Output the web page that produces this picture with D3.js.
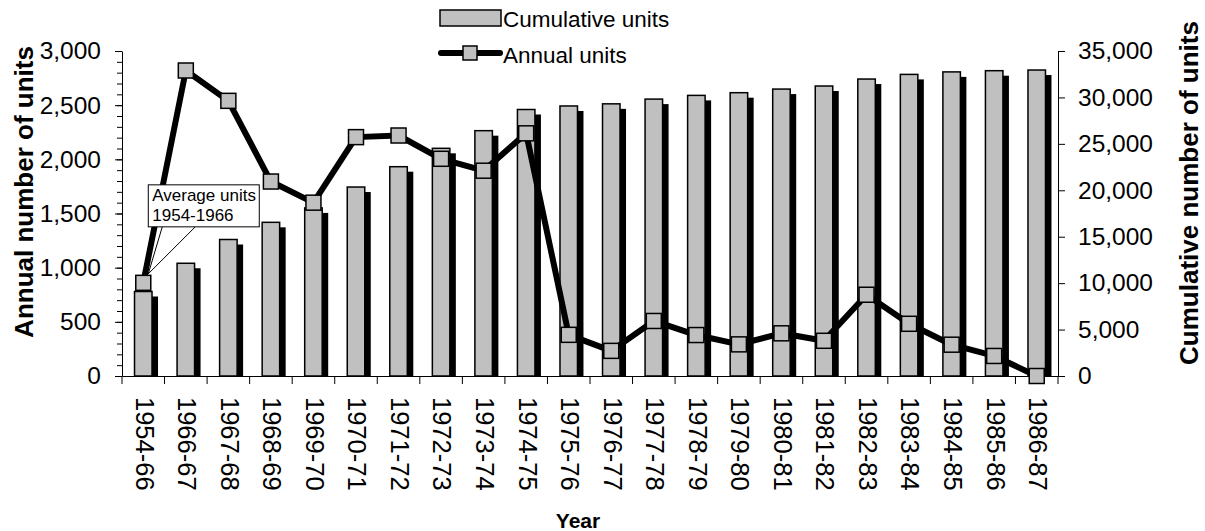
<!DOCTYPE html>
<html>
<head>
<meta charset="utf-8">
<script src="https://cdn.jsdelivr.net/npm/d3@7"></script>
<style>
    body { margin: 0; background: #fff; }
    text { font-family: "Liberation Sans", Arial, sans-serif; fill: #000; }
</style>
</head>
<body>
<div id="chart"></div>
<script>
// Data
const years = ['1954-66', '1966-67', '1967-68', '1968-69', '1969-70', '1970-71', '1971-72',
    '1972-73', '1973-74', '1974-75', '1975-76', '1976-77', '1977-78', '1978-79', '1979-80',
    '1980-81', '1981-82', '1982-83', '1983-84', '1984-85', '1985-86', '1986-87'];
const annualUnits = [860, 2820, 2540, 1795, 1600, 2205, 2220, 2005, 1895, 2240, 380,
    232, 508, 378, 292, 394, 325, 750, 482, 289, 185, 0];
const cumulativeUnits = [9100, 12140, 14700, 16550, 18100, 20350, 22540, 24520, 26420, 28700,
    29080, 29310, 29820, 30220, 30510, 30900, 31230, 31980, 32480, 32750, 32880, 32950];
const leftTicks = [0, 500, 1000, 1500, 2000, 2500, 3000];
const rightTicks = [0, 5000, 10000, 15000, 20000, 25000, 30000, 35000];

// Set the dimensions and margins of the graph
const margin = {top: 51, right: 147, bottom: 155, left: 122},
    width = 1205 - margin.left - margin.right,
    height = 531 - margin.top - margin.bottom;

const root = d3.select('#chart')
    .append('svg')
    .attr('width', 1205)
    .attr('height', 531);

const svg = root.append('g')
    .attr('transform', `translate(${margin.left},${margin.top})`);

// Scales
const x = d3.scaleBand()
    .domain(years)
    .range([0, width]);
const yLeft = d3.scaleLinear()
    .domain([0, 3000])
    .range([height, 0]);
const yRight = d3.scaleLinear()
    .domain([0, 35000])
    .range([height, 0]);

const barW = 17.5;
const cx = d => x(d) + x.bandwidth() / 2;

// Bars (shadow first, then grey bar)
svg.append('g')
    .selectAll('rect')
    .data(years)
    .enter()
    .append('rect')
    .attr('x', d => cx(d) - barW / 2 + 6)
    .attr('y', (d, i) => yRight(cumulativeUnits[i]) + 5)
    .attr('width', barW)
    .attr('height', (d, i) => height - yRight(cumulativeUnits[i]) - 5)
    .attr('fill', '#000');

svg.append('g')
    .selectAll('rect')
    .data(years)
    .enter()
    .append('rect')
    .attr('x', d => cx(d) - barW / 2)
    .attr('y', (d, i) => yRight(cumulativeUnits[i]))
    .attr('width', barW)
    .attr('height', (d, i) => height - yRight(cumulativeUnits[i]))
    .attr('fill', '#c0c0c0')
    .attr('stroke', '#000')
    .attr('stroke-width', 1.5);

// Left axis: minor ticks every 100, labelled ticks every 500
svg.append('g')
    .call(d3.axisLeft(yLeft).tickValues(d3.range(0, 3001, 100)).tickSize(5).tickFormat(''))
    .call(g => g.select('.domain').remove());
svg.append('g')
    .call(d3.axisLeft(yLeft).tickValues(leftTicks).tickSize(7).tickSizeOuter(0).tickPadding(14).tickFormat(d3.format(',')))
    .call(g => g.selectAll('text').attr('font-size', 24.5).attr('font-family', null));

// Right axis
svg.append('g')
    .attr('transform', `translate(${width},0)`)
    .call(d3.axisRight(yRight).tickValues(rightTicks).tickSize(7).tickSizeOuter(0).tickPadding(13).tickFormat(d3.format(',')))
    .call(g => g.selectAll('text').attr('font-size', 24.5).attr('font-family', null));

// x-axis with ticks between categories
const xAxis = svg.append('g')
    .attr('transform', `translate(0,${height})`)
    .call(d3.axisBottom(x).tickSize(0).tickSizeOuter(0));
xAxis.selectAll('text')
    .attr('font-size', 25.5)
    .attr('font-family', null)
    .attr('transform', 'rotate(90)')
    .attr('x', 21)
    .attr('y', 0)
    .attr('dy', '0.3em')
    .style('text-anchor', 'start');
xAxis.selectAll('.sep')
    .data(years.concat(['end']))
    .enter()
    .append('line')
    .attr('class', 'sep')
    .attr('x1', d => d === 'end' ? width : x(d))
    .attr('x2', d => d === 'end' ? width : x(d))
    .attr('y1', 0)
    .attr('y2', 8)
    .attr('stroke', '#000');

// Annual units line
svg.append('path')
    .datum(annualUnits)
    .attr('fill', 'none')
    .attr('stroke', '#000')
    .attr('stroke-width', 6)
    .attr('stroke-linejoin', 'round')
    .attr('d', d3.line()
        .x((d, i) => cx(years[i]))
        .y(d => yLeft(d))
    );

// Square markers
svg.append('g')
    .selectAll('rect')
    .data(annualUnits)
    .enter()
    .append('rect')
    .attr('x', (d, i) => cx(years[i]) - 7.5)
    .attr('y', d => yLeft(d) - 7.5)
    .attr('width', 15)
    .attr('height', 15)
    .attr('fill', '#c0c0c0')
    .attr('stroke', '#000')
    .attr('stroke-width', 1.5);

// Callout for the first point
const px = cx(years[0]), py = yLeft(annualUnits[0]);
const bx = px + 5, by = py - 98;
const callout = svg.append('g');
callout.append('path')
    .attr('d', `M${bx + 14},${by + 42}L${px + 5},${py - 9}L${bx + 47},${by + 42}`)
    .attr('fill', 'none')
    .attr('stroke', '#000')
    .attr('stroke-width', 1);
callout.append('rect')
    .attr('x', bx)
    .attr('y', by)
    .attr('width', 111)
    .attr('height', 42)
    .attr('fill', '#fff')
    .attr('stroke', '#000')
    .attr('stroke-width', 1);
callout.append('text')
    .attr('x', bx + 4)
    .attr('y', by + 16)
    .attr('font-size', 17)
    .text('Average units');
callout.append('text')
    .attr('x', bx + 4)
    .attr('y', by + 36)
    .attr('font-size', 17)
    .text('1954-1966');

// Axis titles
root.append('text')
    .attr('transform', 'translate(33,192)rotate(-90)')
    .attr('text-anchor', 'middle')
    .attr('font-size', 26)
    .attr('font-weight', 'bold')
    .text('Annual number of units');
root.append('text')
    .attr('transform', 'translate(1198,193)rotate(-90)')
    .attr('text-anchor', 'middle')
    .attr('font-size', 26)
    .attr('font-weight', 'bold')
    .text('Cumulative number of units');
root.append('text')
    .attr('x', 578)
    .attr('y', 528)
    .attr('text-anchor', 'middle')
    .attr('font-size', 21)
    .attr('font-weight', 'bold')
    .text('Year');

// Legend
const legend = root.append('g');
legend.append('rect')
    .attr('x', 440)
    .attr('y', 10)
    .attr('width', 61)
    .attr('height', 16)
    .attr('fill', '#c0c0c0')
    .attr('stroke', '#000')
    .attr('stroke-width', 1.5);
legend.append('text')
    .attr('x', 503)
    .attr('y', 27)
    .attr('font-size', 22.5)
    .text('Cumulative units');
legend.append('line')
    .attr('x1', 441)
    .attr('x2', 500)
    .attr('y1', 53)
    .attr('y2', 53)
    .attr('stroke', '#000')
    .attr('stroke-width', 6)
    .attr('stroke-linecap', 'round');
legend.append('rect')
    .attr('x', 463)
    .attr('y', 46)
    .attr('width', 14)
    .attr('height', 14)
    .attr('fill', '#c0c0c0')
    .attr('stroke', '#000')
    .attr('stroke-width', 1.5);
legend.append('text')
    .attr('x', 503)
    .attr('y', 63)
    .attr('font-size', 22.5)
    .text('Annual units');
</script>
</body>
</html>
